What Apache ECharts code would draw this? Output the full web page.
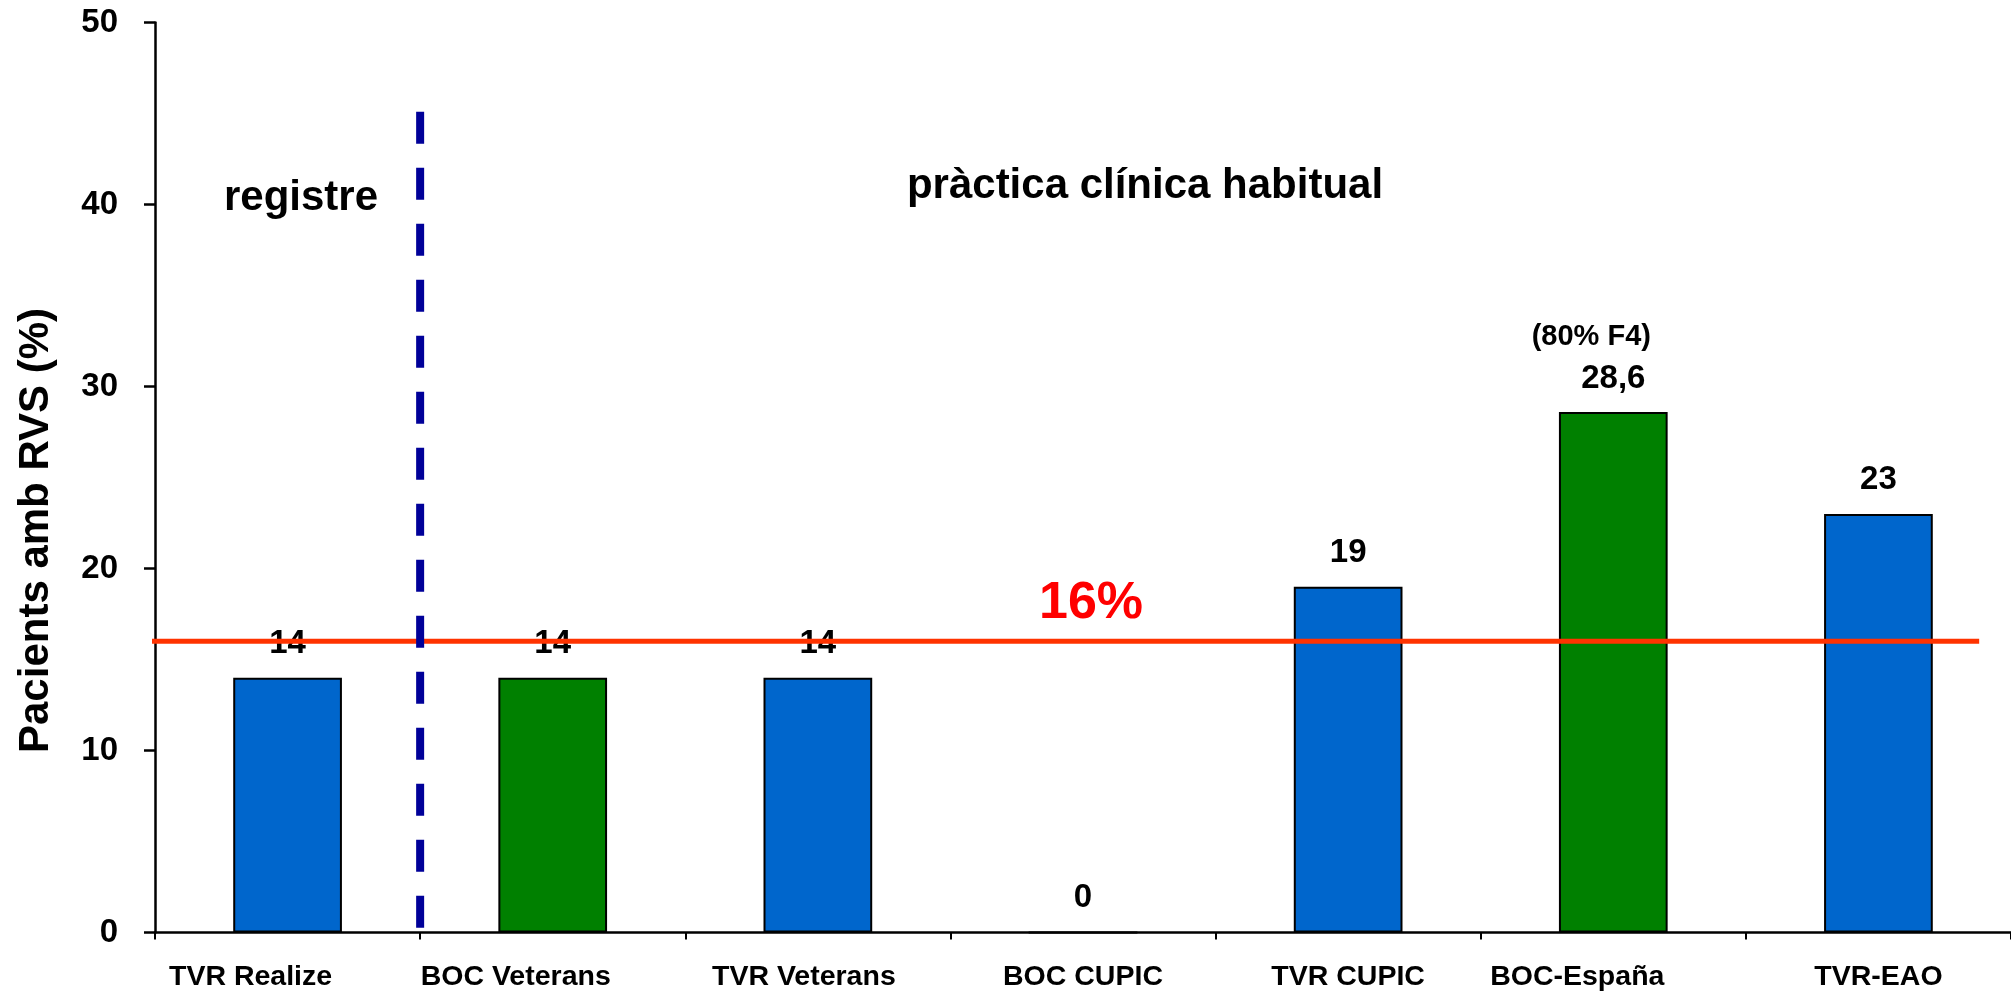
<!DOCTYPE html>
<html>
<head>
<meta charset="utf-8">
<script src="https://cdn.jsdelivr.net/npm/echarts@6/dist/echarts.min.js"></script>
<style>
  html, body { margin: 0; padding: 0; background: #ffffff; }
  #chart { width: 2011px; height: 992px; }
</style>
</head>
<body>
<div id="chart"></div>
<script>
// Percentage of patients with sustained virological response, per study
const categories = ['TVR Realize', 'BOC Veterans', 'TVR Veterans', 'BOC CUPIC', 'TVR CUPIC', 'BOC-España', 'TVR-EAO'];
const values = [14, 14, 14, 0, 19, 28.6, 23];
const drugs = ['TVR', 'BOC', 'TVR', 'BOC', 'TVR', 'BOC', 'TVR'];
const notes = ['', '', '', '', '', '(80% F4)', ''];
const yTicks = [0, 10, 20, 30, 40, 50];

// Overall reference rate
const referenceValue = 16;
const referenceLabel = '16%';
const referenceSpan = [-0.02, 6.88];      // in category units along the hidden value axis

// Divider between the registry study and routine clinical practice
const dividerAt = 1;                       // category boundary index
const dividerRange = [45.1, 0.26];         // y extent, top to bottom
const groupTitles = ['registre', 'pràctica clínica habitual'];
const yTitle = 'Pacients amb RVS (%)';

// ---- styling ----
const FONT = '"Liberation Sans", Arial, Helvetica, sans-serif';
const drugColor = { TVR: '#0066CC', BOC: '#008000' };
const labelShift = [-37, -37, -14, 0, 0, -36, 0];   // horizontal nudge of category labels, px
const fmt = v => String(v).replace('.', ',');

const chart = echarts.init(document.getElementById('chart'), null, { renderer: 'canvas' });

const axisCategories = categories.map((name, i) => {
  const s = labelShift[i];
  return {
    value: name,
    textStyle: { padding: s < 0 ? [0, -2 * s, 0, 0] : [0, 0, 0, 2 * s] }
  };
});

const barData = values.map((v, i) => {
  const item = { value: v, itemStyle: { color: drugColor[drugs[i]] } };
  if (notes[i]) {
    item.label = {
      distance: 13,
      formatter: '{note|' + notes[i] + '}\n{val|' + fmt(v) + '}'
    };
  }
  return item;
});

chart.setOption({
  animation: false,
  backgroundColor: '#ffffff',
  grid: { left: 155, right: -9, top: 22.5, bottom: 59.5, containLabel: false },
  xAxis: [
    {
      type: 'category',
      data: axisCategories,
      boundaryGap: true,
      axisLine: { show: true, lineStyle: { color: '#000', width: 2.5 } },
      axisTick: { show: true, length: 7, interval: 0, lineStyle: { color: '#000', width: 2 } },
      axisLabel: {
        interval: 0, margin: 30, color: '#000',
        fontFamily: FONT, fontWeight: 'bold', fontSize: 28.5
      },
      splitLine: { show: false }
    },
    { type: 'value', min: 0, max: categories.length, show: false }
  ],
  yAxis: {
    type: 'value',
    min: yTicks[0],
    max: yTicks[yTicks.length - 1],
    interval: yTicks[1] - yTicks[0],
    name: yTitle,
    nameLocation: 'middle',
    nameGap: 98,
    nameRotate: 90,
    nameTextStyle: {
      color: '#000', fontFamily: FONT, fontWeight: 'bold', fontSize: 42,
      padding: [0, 106, 0, 0]
    },
    axisLine: { show: true, lineStyle: { color: '#000', width: 2.5 } },
    axisTick: { show: true, length: 11, lineStyle: { color: '#000', width: 2.5 } },
    axisLabel: {
      margin: 37, color: '#000',
      fontFamily: FONT, fontWeight: 'bold', fontSize: 33
    },
    splitLine: { show: false }
  },
  series: [
    {
      type: 'bar',
      data: barData,
      barWidth: '41%',
      z: 2,
      itemStyle: { borderColor: '#000', borderWidth: 2 },
      label: {
        show: true,
        position: 'top',
        distance: 17,
        color: '#000',
        fontFamily: FONT,
        fontWeight: 'bold',
        fontSize: 33,
        formatter: p => fmt(p.value),
        rich: {
          note: { fontFamily: FONT, fontWeight: 'bold', fontSize: 29, color: '#000', lineHeight: 41, padding: [0, 44, 0, 0] },
          val: { fontFamily: FONT, fontWeight: 'bold', fontSize: 33, color: '#000', lineHeight: 41 }
        }
      }
    },
    {
      type: 'line',
      xAxisIndex: 1,
      data: [[referenceSpan[0], referenceValue], [referenceSpan[1], referenceValue]],
      symbol: 'none',
      clip: false,
      z: 3,
      lineStyle: { color: '#FF3300', width: 5, cap: 'butt' },
      silent: true
    },
    {
      type: 'line',
      xAxisIndex: 1,
      data: [[dividerAt, dividerRange[0]], [dividerAt, dividerRange[1]]],
      symbol: 'none',
      clip: false,
      z: 4,
      lineStyle: { color: '#000099', width: 8, type: [32, 24], cap: 'butt' },
      silent: true
    }
  ],
  graphic: [
    {
      type: 'text', x: 301, y: 198, z: 10,
      style: {
        text: groupTitles[0], fill: '#000', align: 'center', verticalAlign: 'middle',
        font: 'bold 42px ' + FONT
      }
    },
    {
      type: 'text', x: 1145, y: 186, z: 10,
      style: {
        text: groupTitles[1], fill: '#000', align: 'center', verticalAlign: 'middle',
        font: 'bold 42px ' + FONT
      }
    },
    {
      type: 'text', x: 1091, y: 604, z: 10,
      style: {
        text: referenceLabel, fill: '#FF0000', align: 'center', verticalAlign: 'middle',
        font: 'bold 52px ' + FONT
      }
    }
  ]
});
</script>
</body>
</html>
